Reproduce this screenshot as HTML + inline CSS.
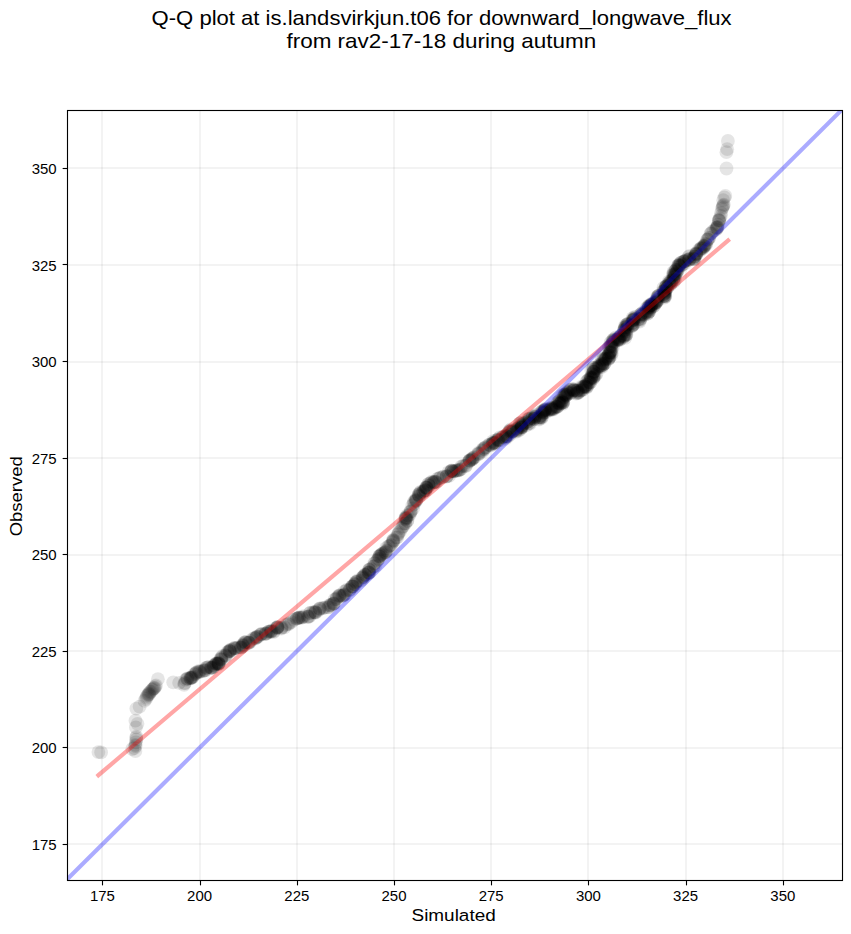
<!DOCTYPE html>
<html><head><meta charset="utf-8"><style>
html,body{margin:0;padding:0;background:#fff;}
body{width:851px;height:934px;overflow:hidden;}
svg{display:block;}
text{font-family:"Liberation Sans",sans-serif;fill:#000;}
</style></head><body>
<svg width="851" height="934" viewBox="0 0 851 934">
<defs><clipPath id="ax"><rect x="67.5" y="110.5" width="775.0" height="770.0"/></clipPath></defs>
<rect width="851" height="934" fill="#fff"/>
<g stroke="#000" stroke-opacity="0.046" stroke-width="2.08"><line x1="102" y1="110.5" x2="102" y2="880.5"/><line x1="67.5" y1="844" x2="842.5" y2="844"/><line x1="200" y1="110.5" x2="200" y2="880.5"/><line x1="67.5" y1="748" x2="842.5" y2="748"/><line x1="297" y1="110.5" x2="297" y2="880.5"/><line x1="67.5" y1="651" x2="842.5" y2="651"/><line x1="394" y1="110.5" x2="394" y2="880.5"/><line x1="67.5" y1="555" x2="842.5" y2="555"/><line x1="491" y1="110.5" x2="491" y2="880.5"/><line x1="67.5" y1="458" x2="842.5" y2="458"/><line x1="588" y1="110.5" x2="588" y2="880.5"/><line x1="67.5" y1="362" x2="842.5" y2="362"/><line x1="686" y1="110.5" x2="686" y2="880.5"/><line x1="67.5" y1="265" x2="842.5" y2="265"/><line x1="783" y1="110.5" x2="783" y2="880.5"/><line x1="67.5" y1="168" x2="842.5" y2="168"/></g>
<g clip-path="url(#ax)">
<g fill="#000" fill-opacity="0.1"><circle cx="98.4" cy="752.1" r="6.9"/><circle cx="101.1" cy="752.4" r="6.9"/><circle cx="132.3" cy="749.0" r="6.9"/><circle cx="135.4" cy="751.0" r="6.9"/><circle cx="134.4" cy="748.0" r="6.9"/><circle cx="135.4" cy="744.9" r="6.9"/><circle cx="135.9" cy="742.3" r="6.9"/><circle cx="136.4" cy="739.7" r="6.9"/><circle cx="136.4" cy="736.7" r="6.9"/><circle cx="135.6" cy="746.0" r="6.9"/><circle cx="136.2" cy="738.0" r="6.9"/><circle cx="135.9" cy="727.4" r="6.9"/><circle cx="135.4" cy="720.7" r="6.9"/><circle cx="137.5" cy="723.8" r="6.9"/><circle cx="136.3" cy="708.6" r="6.9"/><circle cx="139.6" cy="706.7" r="6.9"/><circle cx="144.5" cy="700.9" r="6.9"/><circle cx="145.9" cy="699.0" r="6.9"/><circle cx="147.8" cy="695.1" r="6.9"/><circle cx="149.3" cy="693.2" r="6.9"/><circle cx="152.7" cy="689.3" r="6.9"/><circle cx="154.6" cy="687.9" r="6.9"/><circle cx="156.0" cy="685.5" r="6.9"/><circle cx="157.9" cy="679.2" r="6.9"/><circle cx="146.5" cy="697.5" r="6.9"/><circle cx="151.0" cy="691.5" r="6.9"/><circle cx="153.5" cy="688.6" r="6.9"/><circle cx="148.5" cy="694.0" r="6.9"/><circle cx="155.2" cy="686.5" r="6.9"/><circle cx="150.0" cy="692.0" r="6.9"/><circle cx="152.0" cy="690.0" r="6.9"/><circle cx="147.0" cy="696.0" r="6.9"/><circle cx="154.0" cy="688.0" r="6.9"/><circle cx="149.0" cy="694.5" r="6.9"/><circle cx="173.2" cy="682.3" r="6.9"/><circle cx="179.1" cy="682.8" r="6.9"/><circle cx="726.5" cy="168.5" r="6.9"/><circle cx="726.4" cy="152.2" r="6.9"/><circle cx="727.2" cy="149.2" r="6.9"/><circle cx="727.9" cy="141.0" r="6.9"/><circle cx="184.1" cy="684.8" r="6.9"/><circle cx="184.5" cy="683.4" r="6.9"/><circle cx="184.9" cy="682.9" r="6.9"/><circle cx="187.1" cy="679.2" r="6.9"/><circle cx="185.7" cy="679.9" r="6.9"/><circle cx="187.8" cy="678.6" r="6.9"/><circle cx="187.1" cy="678.4" r="6.9"/><circle cx="190.9" cy="677.6" r="6.9"/><circle cx="190.3" cy="678.2" r="6.9"/><circle cx="193.0" cy="676.3" r="6.9"/><circle cx="192.4" cy="677.4" r="6.9"/><circle cx="191.5" cy="677.8" r="6.9"/><circle cx="190.0" cy="678.0" r="6.9"/><circle cx="190.9" cy="678.3" r="6.9"/><circle cx="191.6" cy="677.4" r="6.9"/><circle cx="196.3" cy="673.2" r="6.9"/><circle cx="194.1" cy="674.4" r="6.9"/><circle cx="195.4" cy="674.0" r="6.9"/><circle cx="195.8" cy="672.9" r="6.9"/><circle cx="196.7" cy="672.2" r="6.9"/><circle cx="198.9" cy="671.0" r="6.9"/><circle cx="200.0" cy="671.5" r="6.9"/><circle cx="199.7" cy="671.8" r="6.9"/><circle cx="198.5" cy="672.0" r="6.9"/><circle cx="205.4" cy="670.3" r="6.9"/><circle cx="203.7" cy="670.6" r="6.9"/><circle cx="202.0" cy="671.4" r="6.9"/><circle cx="204.6" cy="670.7" r="6.9"/><circle cx="205.0" cy="669.6" r="6.9"/><circle cx="207.4" cy="667.4" r="6.9"/><circle cx="205.8" cy="667.9" r="6.9"/><circle cx="208.7" cy="666.9" r="6.9"/><circle cx="206.5" cy="668.0" r="6.9"/><circle cx="212.7" cy="667.5" r="6.9"/><circle cx="213.8" cy="666.8" r="6.9"/><circle cx="211.4" cy="667.6" r="6.9"/><circle cx="212.0" cy="667.9" r="6.9"/><circle cx="214.0" cy="665.8" r="6.9"/><circle cx="210.9" cy="667.6" r="6.9"/><circle cx="211.2" cy="667.8" r="6.9"/><circle cx="215.4" cy="663.9" r="6.9"/><circle cx="216.3" cy="664.2" r="6.9"/><circle cx="216.5" cy="663.5" r="6.9"/><circle cx="216.3" cy="663.8" r="6.9"/><circle cx="214.2" cy="665.3" r="6.9"/><circle cx="217.1" cy="663.7" r="6.9"/><circle cx="218.8" cy="663.7" r="6.9"/><circle cx="218.2" cy="663.5" r="6.9"/><circle cx="218.6" cy="663.0" r="6.9"/><circle cx="218.8" cy="662.4" r="6.9"/><circle cx="218.1" cy="663.8" r="6.9"/><circle cx="218.6" cy="663.6" r="6.9"/><circle cx="218.9" cy="664.2" r="6.9"/><circle cx="221.1" cy="658.4" r="6.9"/><circle cx="221.1" cy="659.6" r="6.9"/><circle cx="222.7" cy="655.9" r="6.9"/><circle cx="221.2" cy="657.7" r="6.9"/><circle cx="220.5" cy="659.4" r="6.9"/><circle cx="221.4" cy="659.1" r="6.9"/><circle cx="225.5" cy="655.3" r="6.9"/><circle cx="225.5" cy="655.1" r="6.9"/><circle cx="226.0" cy="656.1" r="6.9"/><circle cx="227.8" cy="651.7" r="6.9"/><circle cx="229.6" cy="651.1" r="6.9"/><circle cx="229.5" cy="650.9" r="6.9"/><circle cx="227.7" cy="652.7" r="6.9"/><circle cx="230.6" cy="650.9" r="6.9"/><circle cx="229.9" cy="651.3" r="6.9"/><circle cx="229.3" cy="650.9" r="6.9"/><circle cx="230.3" cy="649.6" r="6.9"/><circle cx="231.5" cy="649.6" r="6.9"/><circle cx="234.3" cy="648.1" r="6.9"/><circle cx="234.5" cy="648.7" r="6.9"/><circle cx="234.3" cy="648.0" r="6.9"/><circle cx="235.6" cy="648.2" r="6.9"/><circle cx="238.7" cy="647.2" r="6.9"/><circle cx="236.8" cy="647.8" r="6.9"/><circle cx="243.3" cy="645.9" r="6.9"/><circle cx="242.4" cy="646.0" r="6.9"/><circle cx="240.5" cy="647.7" r="6.9"/><circle cx="241.1" cy="647.4" r="6.9"/><circle cx="243.2" cy="645.3" r="6.9"/><circle cx="241.4" cy="647.3" r="6.9"/><circle cx="243.5" cy="644.2" r="6.9"/><circle cx="245.5" cy="641.8" r="6.9"/><circle cx="246.1" cy="642.6" r="6.9"/><circle cx="245.1" cy="642.4" r="6.9"/><circle cx="244.5" cy="642.4" r="6.9"/><circle cx="243.0" cy="644.6" r="6.9"/><circle cx="249.6" cy="642.7" r="6.9"/><circle cx="250.6" cy="641.0" r="6.9"/><circle cx="248.5" cy="642.6" r="6.9"/><circle cx="248.6" cy="642.9" r="6.9"/><circle cx="248.6" cy="642.7" r="6.9"/><circle cx="252.7" cy="638.9" r="6.9"/><circle cx="254.5" cy="637.8" r="6.9"/><circle cx="257.0" cy="636.6" r="6.9"/><circle cx="256.8" cy="636.9" r="6.9"/><circle cx="255.3" cy="638.5" r="6.9"/><circle cx="255.8" cy="637.8" r="6.9"/><circle cx="258.1" cy="636.8" r="6.9"/><circle cx="256.5" cy="637.5" r="6.9"/><circle cx="261.1" cy="633.9" r="6.9"/><circle cx="260.1" cy="634.9" r="6.9"/><circle cx="261.0" cy="634.3" r="6.9"/><circle cx="262.2" cy="634.2" r="6.9"/><circle cx="265.7" cy="633.6" r="6.9"/><circle cx="265.4" cy="633.5" r="6.9"/><circle cx="265.7" cy="633.9" r="6.9"/><circle cx="266.6" cy="633.5" r="6.9"/><circle cx="271.9" cy="631.3" r="6.9"/><circle cx="268.2" cy="632.0" r="6.9"/><circle cx="269.4" cy="631.4" r="6.9"/><circle cx="268.6" cy="631.7" r="6.9"/><circle cx="270.7" cy="631.7" r="6.9"/><circle cx="271.4" cy="630.6" r="6.9"/><circle cx="270.9" cy="631.5" r="6.9"/><circle cx="273.5" cy="632.0" r="6.9"/><circle cx="274.1" cy="631.1" r="6.9"/><circle cx="277.7" cy="627.4" r="6.9"/><circle cx="277.2" cy="627.2" r="6.9"/><circle cx="277.3" cy="627.9" r="6.9"/><circle cx="276.0" cy="628.2" r="6.9"/><circle cx="277.5" cy="626.9" r="6.9"/><circle cx="277.3" cy="627.7" r="6.9"/><circle cx="284.5" cy="627.3" r="6.9"/><circle cx="281.3" cy="627.9" r="6.9"/><circle cx="281.3" cy="628.6" r="6.9"/><circle cx="281.9" cy="627.4" r="6.9"/><circle cx="285.8" cy="625.0" r="6.9"/><circle cx="288.8" cy="624.1" r="6.9"/><circle cx="287.6" cy="624.1" r="6.9"/><circle cx="289.1" cy="623.2" r="6.9"/><circle cx="291.4" cy="622.1" r="6.9"/><circle cx="296.2" cy="618.8" r="6.9"/><circle cx="294.0" cy="619.8" r="6.9"/><circle cx="299.0" cy="617.7" r="6.9"/><circle cx="297.2" cy="618.3" r="6.9"/><circle cx="297.0" cy="618.4" r="6.9"/><circle cx="298.1" cy="618.1" r="6.9"/><circle cx="300.0" cy="617.3" r="6.9"/><circle cx="298.9" cy="617.6" r="6.9"/><circle cx="301.4" cy="617.7" r="6.9"/><circle cx="303.5" cy="616.2" r="6.9"/><circle cx="303.5" cy="617.2" r="6.9"/><circle cx="301.9" cy="617.6" r="6.9"/><circle cx="307.8" cy="616.6" r="6.9"/><circle cx="309.3" cy="616.6" r="6.9"/><circle cx="307.7" cy="617.0" r="6.9"/><circle cx="309.2" cy="616.2" r="6.9"/><circle cx="310.0" cy="613.0" r="6.9"/><circle cx="312.7" cy="612.1" r="6.9"/><circle cx="310.2" cy="612.9" r="6.9"/><circle cx="313.4" cy="612.7" r="6.9"/><circle cx="315.3" cy="611.9" r="6.9"/><circle cx="314.7" cy="612.2" r="6.9"/><circle cx="315.5" cy="612.5" r="6.9"/><circle cx="318.1" cy="610.6" r="6.9"/><circle cx="315.4" cy="612.6" r="6.9"/><circle cx="319.5" cy="609.1" r="6.9"/><circle cx="319.8" cy="608.6" r="6.9"/><circle cx="319.7" cy="608.4" r="6.9"/><circle cx="322.4" cy="608.2" r="6.9"/><circle cx="323.6" cy="607.9" r="6.9"/><circle cx="324.9" cy="607.6" r="6.9"/><circle cx="330.3" cy="605.0" r="6.9"/><circle cx="328.7" cy="607.1" r="6.9"/><circle cx="327.9" cy="607.3" r="6.9"/><circle cx="329.2" cy="605.3" r="6.9"/><circle cx="330.5" cy="605.6" r="6.9"/><circle cx="331.5" cy="604.6" r="6.9"/><circle cx="333.1" cy="603.9" r="6.9"/><circle cx="334.2" cy="603.1" r="6.9"/><circle cx="333.4" cy="603.8" r="6.9"/><circle cx="333.7" cy="603.3" r="6.9"/><circle cx="334.7" cy="599.4" r="6.9"/><circle cx="336.8" cy="598.6" r="6.9"/><circle cx="336.0" cy="599.2" r="6.9"/><circle cx="340.1" cy="595.7" r="6.9"/><circle cx="338.9" cy="596.4" r="6.9"/><circle cx="339.1" cy="595.5" r="6.9"/><circle cx="339.5" cy="595.5" r="6.9"/><circle cx="337.2" cy="597.4" r="6.9"/><circle cx="345.4" cy="593.6" r="6.9"/><circle cx="343.2" cy="595.3" r="6.9"/><circle cx="344.5" cy="594.7" r="6.9"/><circle cx="344.2" cy="594.8" r="6.9"/><circle cx="341.9" cy="595.9" r="6.9"/><circle cx="342.9" cy="595.9" r="6.9"/><circle cx="344.3" cy="591.7" r="6.9"/><circle cx="346.8" cy="590.3" r="6.9"/><circle cx="346.5" cy="589.9" r="6.9"/><circle cx="349.3" cy="590.1" r="6.9"/><circle cx="349.6" cy="590.0" r="6.9"/><circle cx="351.5" cy="586.9" r="6.9"/><circle cx="350.4" cy="589.0" r="6.9"/><circle cx="352.9" cy="586.6" r="6.9"/><circle cx="352.6" cy="586.2" r="6.9"/><circle cx="352.3" cy="586.4" r="6.9"/><circle cx="354.9" cy="583.6" r="6.9"/><circle cx="354.7" cy="584.4" r="6.9"/><circle cx="355.1" cy="584.4" r="6.9"/><circle cx="352.9" cy="586.5" r="6.9"/><circle cx="356.6" cy="581.8" r="6.9"/><circle cx="355.7" cy="582.1" r="6.9"/><circle cx="356.0" cy="582.1" r="6.9"/><circle cx="357.5" cy="580.4" r="6.9"/><circle cx="357.8" cy="581.4" r="6.9"/><circle cx="362.6" cy="578.9" r="6.9"/><circle cx="360.8" cy="580.6" r="6.9"/><circle cx="363.5" cy="576.4" r="6.9"/><circle cx="362.2" cy="577.6" r="6.9"/><circle cx="364.7" cy="575.0" r="6.9"/><circle cx="365.0" cy="574.6" r="6.9"/><circle cx="363.2" cy="577.2" r="6.9"/><circle cx="362.9" cy="577.3" r="6.9"/><circle cx="365.6" cy="575.1" r="6.9"/><circle cx="369.4" cy="572.3" r="6.9"/><circle cx="368.3" cy="572.7" r="6.9"/><circle cx="368.7" cy="572.9" r="6.9"/><circle cx="368.9" cy="573.0" r="6.9"/><circle cx="367.0" cy="574.2" r="6.9"/><circle cx="368.9" cy="572.0" r="6.9"/><circle cx="370.9" cy="568.8" r="6.9"/><circle cx="369.2" cy="570.2" r="6.9"/><circle cx="369.2" cy="570.0" r="6.9"/><circle cx="369.2" cy="569.4" r="6.9"/><circle cx="373.7" cy="566.5" r="6.9"/><circle cx="375.5" cy="565.5" r="6.9"/><circle cx="373.5" cy="566.6" r="6.9"/><circle cx="374.2" cy="563.4" r="6.9"/><circle cx="374.9" cy="563.1" r="6.9"/><circle cx="376.9" cy="560.9" r="6.9"/><circle cx="378.2" cy="559.1" r="6.9"/><circle cx="377.3" cy="560.2" r="6.9"/><circle cx="379.6" cy="556.7" r="6.9"/><circle cx="378.8" cy="558.8" r="6.9"/><circle cx="380.1" cy="555.5" r="6.9"/><circle cx="381.2" cy="555.2" r="6.9"/><circle cx="382.3" cy="553.7" r="6.9"/><circle cx="379.2" cy="556.1" r="6.9"/><circle cx="381.9" cy="554.2" r="6.9"/><circle cx="380.9" cy="554.8" r="6.9"/><circle cx="379.4" cy="556.4" r="6.9"/><circle cx="386.4" cy="550.4" r="6.9"/><circle cx="383.6" cy="553.2" r="6.9"/><circle cx="385.4" cy="552.3" r="6.9"/><circle cx="386.7" cy="550.9" r="6.9"/><circle cx="385.8" cy="551.9" r="6.9"/><circle cx="385.0" cy="552.4" r="6.9"/><circle cx="388.4" cy="546.4" r="6.9"/><circle cx="386.1" cy="548.1" r="6.9"/><circle cx="389.4" cy="546.1" r="6.9"/><circle cx="391.1" cy="545.1" r="6.9"/><circle cx="390.4" cy="545.2" r="6.9"/><circle cx="393.3" cy="541.3" r="6.9"/><circle cx="393.7" cy="540.5" r="6.9"/><circle cx="392.7" cy="540.7" r="6.9"/><circle cx="392.8" cy="542.1" r="6.9"/><circle cx="393.3" cy="539.9" r="6.9"/><circle cx="396.0" cy="537.7" r="6.9"/><circle cx="397.3" cy="537.3" r="6.9"/><circle cx="398.3" cy="533.8" r="6.9"/><circle cx="397.9" cy="534.7" r="6.9"/><circle cx="399.0" cy="532.4" r="6.9"/><circle cx="401.6" cy="528.2" r="6.9"/><circle cx="400.5" cy="530.8" r="6.9"/><circle cx="402.4" cy="526.8" r="6.9"/><circle cx="403.3" cy="526.1" r="6.9"/><circle cx="403.7" cy="523.6" r="6.9"/><circle cx="405.1" cy="523.2" r="6.9"/><circle cx="405.3" cy="523.7" r="6.9"/><circle cx="407.4" cy="520.5" r="6.9"/><circle cx="407.2" cy="521.2" r="6.9"/><circle cx="407.3" cy="515.2" r="6.9"/><circle cx="405.6" cy="519.0" r="6.9"/><circle cx="405.9" cy="517.4" r="6.9"/><circle cx="405.6" cy="517.5" r="6.9"/><circle cx="405.1" cy="518.9" r="6.9"/><circle cx="406.5" cy="517.8" r="6.9"/><circle cx="406.1" cy="518.7" r="6.9"/><circle cx="410.4" cy="512.2" r="6.9"/><circle cx="408.7" cy="515.3" r="6.9"/><circle cx="409.9" cy="514.3" r="6.9"/><circle cx="411.0" cy="511.4" r="6.9"/><circle cx="413.1" cy="508.5" r="6.9"/><circle cx="410.6" cy="511.2" r="6.9"/><circle cx="414.0" cy="504.0" r="6.9"/><circle cx="412.4" cy="505.3" r="6.9"/><circle cx="415.7" cy="499.9" r="6.9"/><circle cx="414.3" cy="501.4" r="6.9"/><circle cx="416.4" cy="500.1" r="6.9"/><circle cx="416.1" cy="500.6" r="6.9"/><circle cx="414.0" cy="502.5" r="6.9"/><circle cx="415.8" cy="501.2" r="6.9"/><circle cx="416.3" cy="499.0" r="6.9"/><circle cx="418.9" cy="495.3" r="6.9"/><circle cx="419.2" cy="496.1" r="6.9"/><circle cx="419.3" cy="496.1" r="6.9"/><circle cx="420.1" cy="493.7" r="6.9"/><circle cx="418.9" cy="494.5" r="6.9"/><circle cx="420.5" cy="491.8" r="6.9"/><circle cx="418.7" cy="494.4" r="6.9"/><circle cx="420.1" cy="492.7" r="6.9"/><circle cx="423.4" cy="491.2" r="6.9"/><circle cx="423.1" cy="492.1" r="6.9"/><circle cx="425.2" cy="490.2" r="6.9"/><circle cx="423.5" cy="491.6" r="6.9"/><circle cx="425.1" cy="490.7" r="6.9"/><circle cx="425.7" cy="490.4" r="6.9"/><circle cx="424.8" cy="490.0" r="6.9"/><circle cx="427.0" cy="487.6" r="6.9"/><circle cx="426.0" cy="487.7" r="6.9"/><circle cx="426.1" cy="487.5" r="6.9"/><circle cx="428.7" cy="485.9" r="6.9"/><circle cx="426.6" cy="487.5" r="6.9"/><circle cx="429.0" cy="485.6" r="6.9"/><circle cx="426.6" cy="488.1" r="6.9"/><circle cx="430.1" cy="483.5" r="6.9"/><circle cx="431.5" cy="482.4" r="6.9"/><circle cx="428.2" cy="484.3" r="6.9"/><circle cx="428.4" cy="484.0" r="6.9"/><circle cx="431.7" cy="481.7" r="6.9"/><circle cx="434.4" cy="482.0" r="6.9"/><circle cx="436.2" cy="482.0" r="6.9"/><circle cx="433.2" cy="483.0" r="6.9"/><circle cx="435.1" cy="481.6" r="6.9"/><circle cx="434.0" cy="482.0" r="6.9"/><circle cx="433.4" cy="482.4" r="6.9"/><circle cx="435.3" cy="482.1" r="6.9"/><circle cx="438.9" cy="478.2" r="6.9"/><circle cx="437.4" cy="478.9" r="6.9"/><circle cx="439.6" cy="478.3" r="6.9"/><circle cx="442.8" cy="477.1" r="6.9"/><circle cx="440.7" cy="477.5" r="6.9"/><circle cx="443.3" cy="476.6" r="6.9"/><circle cx="446.6" cy="476.7" r="6.9"/><circle cx="446.7" cy="476.4" r="6.9"/><circle cx="449.1" cy="475.9" r="6.9"/><circle cx="446.6" cy="476.2" r="6.9"/><circle cx="451.8" cy="470.9" r="6.9"/><circle cx="451.4" cy="471.0" r="6.9"/><circle cx="451.7" cy="471.0" r="6.9"/><circle cx="448.5" cy="472.1" r="6.9"/><circle cx="450.5" cy="471.9" r="6.9"/><circle cx="451.6" cy="470.5" r="6.9"/><circle cx="453.3" cy="471.3" r="6.9"/><circle cx="455.2" cy="471.2" r="6.9"/><circle cx="453.3" cy="471.6" r="6.9"/><circle cx="456.3" cy="470.6" r="6.9"/><circle cx="453.4" cy="471.1" r="6.9"/><circle cx="456.9" cy="470.3" r="6.9"/><circle cx="459.2" cy="470.2" r="6.9"/><circle cx="460.1" cy="469.6" r="6.9"/><circle cx="458.2" cy="470.6" r="6.9"/><circle cx="458.2" cy="470.0" r="6.9"/><circle cx="461.0" cy="469.1" r="6.9"/><circle cx="462.8" cy="465.9" r="6.9"/><circle cx="461.1" cy="466.7" r="6.9"/><circle cx="463.9" cy="466.0" r="6.9"/><circle cx="465.8" cy="466.0" r="6.9"/><circle cx="465.9" cy="465.5" r="6.9"/><circle cx="469.7" cy="460.8" r="6.9"/><circle cx="469.7" cy="460.8" r="6.9"/><circle cx="469.6" cy="460.5" r="6.9"/><circle cx="468.3" cy="462.0" r="6.9"/><circle cx="469.6" cy="460.2" r="6.9"/><circle cx="471.0" cy="459.9" r="6.9"/><circle cx="472.0" cy="458.6" r="6.9"/><circle cx="473.1" cy="457.6" r="6.9"/><circle cx="473.5" cy="458.0" r="6.9"/><circle cx="472.2" cy="459.3" r="6.9"/><circle cx="472.4" cy="459.2" r="6.9"/><circle cx="474.6" cy="457.0" r="6.9"/><circle cx="478.3" cy="452.9" r="6.9"/><circle cx="478.6" cy="454.0" r="6.9"/><circle cx="478.1" cy="454.2" r="6.9"/><circle cx="482.8" cy="451.2" r="6.9"/><circle cx="479.7" cy="453.2" r="6.9"/><circle cx="482.1" cy="450.4" r="6.9"/><circle cx="485.4" cy="447.4" r="6.9"/><circle cx="485.1" cy="447.5" r="6.9"/><circle cx="484.4" cy="449.1" r="6.9"/><circle cx="482.8" cy="449.2" r="6.9"/><circle cx="484.0" cy="448.5" r="6.9"/><circle cx="489.7" cy="445.1" r="6.9"/><circle cx="489.2" cy="444.7" r="6.9"/><circle cx="488.7" cy="444.9" r="6.9"/><circle cx="493.4" cy="443.0" r="6.9"/><circle cx="492.5" cy="444.0" r="6.9"/><circle cx="490.8" cy="445.4" r="6.9"/><circle cx="492.4" cy="443.4" r="6.9"/><circle cx="492.9" cy="442.9" r="6.9"/><circle cx="493.9" cy="442.7" r="6.9"/><circle cx="495.0" cy="442.9" r="6.9"/><circle cx="494.6" cy="443.5" r="6.9"/><circle cx="495.2" cy="442.4" r="6.9"/><circle cx="498.0" cy="440.7" r="6.9"/><circle cx="496.3" cy="440.5" r="6.9"/><circle cx="493.1" cy="441.1" r="6.9"/><circle cx="500.7" cy="440.4" r="6.9"/><circle cx="498.0" cy="439.2" r="6.9"/><circle cx="499.7" cy="437.4" r="6.9"/><circle cx="497.7" cy="439.8" r="6.9"/><circle cx="498.1" cy="439.6" r="6.9"/><circle cx="499.0" cy="440.1" r="6.9"/><circle cx="503.7" cy="436.7" r="6.9"/><circle cx="505.7" cy="436.0" r="6.9"/><circle cx="502.3" cy="437.3" r="6.9"/><circle cx="505.6" cy="438.7" r="6.9"/><circle cx="505.4" cy="436.9" r="6.9"/><circle cx="502.6" cy="436.8" r="6.9"/><circle cx="505.1" cy="437.7" r="6.9"/><circle cx="510.2" cy="434.6" r="6.9"/><circle cx="507.7" cy="436.7" r="6.9"/><circle cx="506.2" cy="435.9" r="6.9"/><circle cx="507.2" cy="434.2" r="6.9"/><circle cx="506.7" cy="436.7" r="6.9"/><circle cx="506.1" cy="436.1" r="6.9"/><circle cx="511.5" cy="431.1" r="6.9"/><circle cx="512.3" cy="431.9" r="6.9"/><circle cx="509.5" cy="431.8" r="6.9"/><circle cx="509.4" cy="430.7" r="6.9"/><circle cx="513.2" cy="431.2" r="6.9"/><circle cx="510.8" cy="429.4" r="6.9"/><circle cx="512.9" cy="431.2" r="6.9"/><circle cx="511.5" cy="432.2" r="6.9"/><circle cx="510.4" cy="430.8" r="6.9"/><circle cx="509.1" cy="431.7" r="6.9"/><circle cx="517.9" cy="431.2" r="6.9"/><circle cx="516.7" cy="429.5" r="6.9"/><circle cx="516.4" cy="430.4" r="6.9"/><circle cx="517.5" cy="430.0" r="6.9"/><circle cx="515.8" cy="431.8" r="6.9"/><circle cx="517.5" cy="428.6" r="6.9"/><circle cx="516.7" cy="428.3" r="6.9"/><circle cx="522.2" cy="427.4" r="6.9"/><circle cx="520.2" cy="429.5" r="6.9"/><circle cx="518.8" cy="427.7" r="6.9"/><circle cx="521.8" cy="427.2" r="6.9"/><circle cx="521.1" cy="427.9" r="6.9"/><circle cx="521.7" cy="426.5" r="6.9"/><circle cx="521.7" cy="427.6" r="6.9"/><circle cx="521.2" cy="426.8" r="6.9"/><circle cx="521.7" cy="424.7" r="6.9"/><circle cx="521.8" cy="425.9" r="6.9"/><circle cx="520.1" cy="423.1" r="6.9"/><circle cx="521.9" cy="425.8" r="6.9"/><circle cx="521.1" cy="422.9" r="6.9"/><circle cx="519.7" cy="423.5" r="6.9"/><circle cx="523.4" cy="423.4" r="6.9"/><circle cx="523.7" cy="423.6" r="6.9"/><circle cx="521.1" cy="425.0" r="6.9"/><circle cx="528.6" cy="421.2" r="6.9"/><circle cx="529.9" cy="423.9" r="6.9"/><circle cx="528.9" cy="421.2" r="6.9"/><circle cx="525.9" cy="422.7" r="6.9"/><circle cx="526.3" cy="425.4" r="6.9"/><circle cx="529.2" cy="423.2" r="6.9"/><circle cx="529.2" cy="423.1" r="6.9"/><circle cx="526.2" cy="422.5" r="6.9"/><circle cx="529.6" cy="418.8" r="6.9"/><circle cx="528.1" cy="418.9" r="6.9"/><circle cx="529.9" cy="419.8" r="6.9"/><circle cx="529.6" cy="418.4" r="6.9"/><circle cx="532.4" cy="417.7" r="6.9"/><circle cx="532.1" cy="418.3" r="6.9"/><circle cx="528.4" cy="419.4" r="6.9"/><circle cx="535.8" cy="416.9" r="6.9"/><circle cx="534.3" cy="419.0" r="6.9"/><circle cx="533.7" cy="419.1" r="6.9"/><circle cx="532.7" cy="416.3" r="6.9"/><circle cx="534.1" cy="418.7" r="6.9"/><circle cx="536.1" cy="414.6" r="6.9"/><circle cx="534.8" cy="417.2" r="6.9"/><circle cx="535.6" cy="415.6" r="6.9"/><circle cx="534.6" cy="416.7" r="6.9"/><circle cx="538.9" cy="417.2" r="6.9"/><circle cx="541.1" cy="417.3" r="6.9"/><circle cx="538.9" cy="418.9" r="6.9"/><circle cx="539.0" cy="419.5" r="6.9"/><circle cx="541.6" cy="418.2" r="6.9"/><circle cx="540.6" cy="417.0" r="6.9"/><circle cx="539.7" cy="417.6" r="6.9"/><circle cx="541.2" cy="415.6" r="6.9"/><circle cx="541.1" cy="415.4" r="6.9"/><circle cx="538.7" cy="417.5" r="6.9"/><circle cx="541.9" cy="416.9" r="6.9"/><circle cx="542.6" cy="412.8" r="6.9"/><circle cx="544.1" cy="412.7" r="6.9"/><circle cx="542.9" cy="411.8" r="6.9"/><circle cx="541.3" cy="412.1" r="6.9"/><circle cx="544.3" cy="412.2" r="6.9"/><circle cx="542.9" cy="411.0" r="6.9"/><circle cx="543.0" cy="413.6" r="6.9"/><circle cx="542.2" cy="411.3" r="6.9"/><circle cx="544.8" cy="410.2" r="6.9"/><circle cx="547.9" cy="410.4" r="6.9"/><circle cx="544.4" cy="409.9" r="6.9"/><circle cx="545.1" cy="410.1" r="6.9"/><circle cx="545.8" cy="408.9" r="6.9"/><circle cx="545.1" cy="409.5" r="6.9"/><circle cx="548.6" cy="409.3" r="6.9"/><circle cx="545.9" cy="412.4" r="6.9"/><circle cx="544.7" cy="410.7" r="6.9"/><circle cx="550.6" cy="408.5" r="6.9"/><circle cx="551.2" cy="407.7" r="6.9"/><circle cx="550.2" cy="409.6" r="6.9"/><circle cx="549.6" cy="410.1" r="6.9"/><circle cx="553.0" cy="409.0" r="6.9"/><circle cx="551.8" cy="409.6" r="6.9"/><circle cx="550.6" cy="408.2" r="6.9"/><circle cx="551.7" cy="408.6" r="6.9"/><circle cx="553.3" cy="409.7" r="6.9"/><circle cx="551.4" cy="409.6" r="6.9"/><circle cx="552.3" cy="408.3" r="6.9"/><circle cx="557.1" cy="406.9" r="6.9"/><circle cx="557.3" cy="406.6" r="6.9"/><circle cx="556.1" cy="406.6" r="6.9"/><circle cx="555.2" cy="407.9" r="6.9"/><circle cx="554.0" cy="407.9" r="6.9"/><circle cx="557.2" cy="406.9" r="6.9"/><circle cx="555.6" cy="406.0" r="6.9"/><circle cx="555.3" cy="407.1" r="6.9"/><circle cx="559.5" cy="401.2" r="6.9"/><circle cx="559.9" cy="403.6" r="6.9"/><circle cx="558.3" cy="403.6" r="6.9"/><circle cx="559.3" cy="400.6" r="6.9"/><circle cx="558.1" cy="402.3" r="6.9"/><circle cx="560.7" cy="403.7" r="6.9"/><circle cx="557.8" cy="402.2" r="6.9"/><circle cx="559.1" cy="403.2" r="6.9"/><circle cx="559.5" cy="402.7" r="6.9"/><circle cx="560.0" cy="403.8" r="6.9"/><circle cx="562.5" cy="402.7" r="6.9"/><circle cx="563.3" cy="402.3" r="6.9"/><circle cx="562.9" cy="403.8" r="6.9"/><circle cx="561.5" cy="400.5" r="6.9"/><circle cx="562.0" cy="401.7" r="6.9"/><circle cx="561.2" cy="402.6" r="6.9"/><circle cx="563.2" cy="402.1" r="6.9"/><circle cx="562.0" cy="401.1" r="6.9"/><circle cx="562.7" cy="402.8" r="6.9"/><circle cx="565.0" cy="394.4" r="6.9"/><circle cx="562.3" cy="395.5" r="6.9"/><circle cx="565.9" cy="395.7" r="6.9"/><circle cx="564.6" cy="395.2" r="6.9"/><circle cx="563.8" cy="394.7" r="6.9"/><circle cx="565.5" cy="393.8" r="6.9"/><circle cx="565.5" cy="396.1" r="6.9"/><circle cx="565.2" cy="394.6" r="6.9"/><circle cx="563.6" cy="396.4" r="6.9"/><circle cx="563.7" cy="397.7" r="6.9"/><circle cx="564.5" cy="397.0" r="6.9"/><circle cx="567.5" cy="392.0" r="6.9"/><circle cx="566.5" cy="394.6" r="6.9"/><circle cx="567.0" cy="392.5" r="6.9"/><circle cx="567.4" cy="393.2" r="6.9"/><circle cx="568.2" cy="393.5" r="6.9"/><circle cx="568.7" cy="392.1" r="6.9"/><circle cx="570.6" cy="393.2" r="6.9"/><circle cx="566.9" cy="394.8" r="6.9"/><circle cx="573.8" cy="390.3" r="6.9"/><circle cx="569.5" cy="389.8" r="6.9"/><circle cx="574.4" cy="390.1" r="6.9"/><circle cx="570.6" cy="389.6" r="6.9"/><circle cx="570.4" cy="390.3" r="6.9"/><circle cx="573.2" cy="389.4" r="6.9"/><circle cx="571.4" cy="392.5" r="6.9"/><circle cx="573.0" cy="388.8" r="6.9"/><circle cx="574.0" cy="390.1" r="6.9"/><circle cx="573.7" cy="390.5" r="6.9"/><circle cx="576.8" cy="392.8" r="6.9"/><circle cx="578.3" cy="392.3" r="6.9"/><circle cx="578.1" cy="393.0" r="6.9"/><circle cx="577.7" cy="390.7" r="6.9"/><circle cx="576.2" cy="390.9" r="6.9"/><circle cx="577.1" cy="390.2" r="6.9"/><circle cx="577.2" cy="390.5" r="6.9"/><circle cx="577.8" cy="391.6" r="6.9"/><circle cx="578.5" cy="392.7" r="6.9"/><circle cx="576.3" cy="393.7" r="6.9"/><circle cx="582.6" cy="387.2" r="6.9"/><circle cx="582.6" cy="390.1" r="6.9"/><circle cx="580.7" cy="390.3" r="6.9"/><circle cx="581.0" cy="386.9" r="6.9"/><circle cx="582.6" cy="388.7" r="6.9"/><circle cx="582.8" cy="386.8" r="6.9"/><circle cx="583.4" cy="387.1" r="6.9"/><circle cx="582.7" cy="389.7" r="6.9"/><circle cx="580.7" cy="390.6" r="6.9"/><circle cx="585.2" cy="386.5" r="6.9"/><circle cx="586.5" cy="386.8" r="6.9"/><circle cx="584.6" cy="386.9" r="6.9"/><circle cx="585.6" cy="386.6" r="6.9"/><circle cx="586.4" cy="384.6" r="6.9"/><circle cx="586.6" cy="384.9" r="6.9"/><circle cx="585.2" cy="385.6" r="6.9"/><circle cx="586.9" cy="387.4" r="6.9"/><circle cx="587.0" cy="386.5" r="6.9"/><circle cx="584.7" cy="386.2" r="6.9"/><circle cx="588.2" cy="380.1" r="6.9"/><circle cx="590.1" cy="382.6" r="6.9"/><circle cx="587.4" cy="380.9" r="6.9"/><circle cx="586.5" cy="381.6" r="6.9"/><circle cx="588.4" cy="384.3" r="6.9"/><circle cx="589.1" cy="382.3" r="6.9"/><circle cx="590.4" cy="382.4" r="6.9"/><circle cx="589.0" cy="382.2" r="6.9"/><circle cx="591.0" cy="377.4" r="6.9"/><circle cx="591.7" cy="377.9" r="6.9"/><circle cx="590.8" cy="376.9" r="6.9"/><circle cx="589.3" cy="379.1" r="6.9"/><circle cx="593.4" cy="378.3" r="6.9"/><circle cx="591.4" cy="377.8" r="6.9"/><circle cx="593.1" cy="377.9" r="6.9"/><circle cx="590.9" cy="378.0" r="6.9"/><circle cx="590.8" cy="379.3" r="6.9"/><circle cx="593.6" cy="372.3" r="6.9"/><circle cx="592.7" cy="373.7" r="6.9"/><circle cx="594.1" cy="376.9" r="6.9"/><circle cx="595.4" cy="375.3" r="6.9"/><circle cx="592.3" cy="374.1" r="6.9"/><circle cx="594.0" cy="375.4" r="6.9"/><circle cx="596.5" cy="373.9" r="6.9"/><circle cx="593.6" cy="374.7" r="6.9"/><circle cx="593.5" cy="376.6" r="6.9"/><circle cx="593.1" cy="371.6" r="6.9"/><circle cx="594.2" cy="371.7" r="6.9"/><circle cx="593.9" cy="371.6" r="6.9"/><circle cx="591.3" cy="369.9" r="6.9"/><circle cx="593.3" cy="368.0" r="6.9"/><circle cx="593.2" cy="367.8" r="6.9"/><circle cx="593.5" cy="371.6" r="6.9"/><circle cx="595.2" cy="369.1" r="6.9"/><circle cx="599.2" cy="366.3" r="6.9"/><circle cx="599.3" cy="365.0" r="6.9"/><circle cx="600.7" cy="366.0" r="6.9"/><circle cx="595.9" cy="367.6" r="6.9"/><circle cx="600.0" cy="367.3" r="6.9"/><circle cx="596.9" cy="368.1" r="6.9"/><circle cx="598.5" cy="365.5" r="6.9"/><circle cx="599.7" cy="365.8" r="6.9"/><circle cx="597.0" cy="368.3" r="6.9"/><circle cx="598.7" cy="366.7" r="6.9"/><circle cx="602.3" cy="365.0" r="6.9"/><circle cx="602.5" cy="363.5" r="6.9"/><circle cx="602.7" cy="365.2" r="6.9"/><circle cx="604.4" cy="363.3" r="6.9"/><circle cx="602.0" cy="363.4" r="6.9"/><circle cx="602.3" cy="366.8" r="6.9"/><circle cx="603.8" cy="364.2" r="6.9"/><circle cx="602.1" cy="365.0" r="6.9"/><circle cx="604.7" cy="363.3" r="6.9"/><circle cx="602.1" cy="363.4" r="6.9"/><circle cx="604.7" cy="359.0" r="6.9"/><circle cx="605.9" cy="358.7" r="6.9"/><circle cx="601.8" cy="358.9" r="6.9"/><circle cx="602.9" cy="360.0" r="6.9"/><circle cx="605.0" cy="359.8" r="6.9"/><circle cx="603.8" cy="356.9" r="6.9"/><circle cx="605.7" cy="359.0" r="6.9"/><circle cx="605.2" cy="358.3" r="6.9"/><circle cx="604.1" cy="361.0" r="6.9"/><circle cx="606.9" cy="356.8" r="6.9"/><circle cx="609.6" cy="357.3" r="6.9"/><circle cx="608.7" cy="358.6" r="6.9"/><circle cx="608.7" cy="354.8" r="6.9"/><circle cx="609.4" cy="356.8" r="6.9"/><circle cx="607.6" cy="356.6" r="6.9"/><circle cx="608.8" cy="358.4" r="6.9"/><circle cx="609.1" cy="355.7" r="6.9"/><circle cx="608.6" cy="359.2" r="6.9"/><circle cx="608.4" cy="355.4" r="6.9"/><circle cx="610.7" cy="352.8" r="6.9"/><circle cx="610.0" cy="352.0" r="6.9"/><circle cx="609.0" cy="353.6" r="6.9"/><circle cx="610.8" cy="351.8" r="6.9"/><circle cx="610.6" cy="352.5" r="6.9"/><circle cx="609.7" cy="352.2" r="6.9"/><circle cx="611.3" cy="355.6" r="6.9"/><circle cx="609.2" cy="352.7" r="6.9"/><circle cx="611.9" cy="352.9" r="6.9"/><circle cx="609.3" cy="346.7" r="6.9"/><circle cx="611.2" cy="350.4" r="6.9"/><circle cx="611.6" cy="346.1" r="6.9"/><circle cx="610.2" cy="346.9" r="6.9"/><circle cx="611.2" cy="346.4" r="6.9"/><circle cx="612.6" cy="346.3" r="6.9"/><circle cx="613.0" cy="347.2" r="6.9"/><circle cx="608.8" cy="347.8" r="6.9"/><circle cx="611.1" cy="344.9" r="6.9"/><circle cx="612.7" cy="341.4" r="6.9"/><circle cx="614.3" cy="342.0" r="6.9"/><circle cx="611.3" cy="344.9" r="6.9"/><circle cx="610.6" cy="342.7" r="6.9"/><circle cx="612.3" cy="340.7" r="6.9"/><circle cx="612.6" cy="343.0" r="6.9"/><circle cx="613.6" cy="341.5" r="6.9"/><circle cx="618.6" cy="339.4" r="6.9"/><circle cx="613.7" cy="339.2" r="6.9"/><circle cx="614.6" cy="339.9" r="6.9"/><circle cx="618.1" cy="339.3" r="6.9"/><circle cx="615.8" cy="337.3" r="6.9"/><circle cx="617.3" cy="339.2" r="6.9"/><circle cx="617.5" cy="340.3" r="6.9"/><circle cx="613.4" cy="340.0" r="6.9"/><circle cx="617.7" cy="339.9" r="6.9"/><circle cx="620.4" cy="336.0" r="6.9"/><circle cx="619.4" cy="337.8" r="6.9"/><circle cx="619.3" cy="339.0" r="6.9"/><circle cx="618.8" cy="338.2" r="6.9"/><circle cx="619.8" cy="339.5" r="6.9"/><circle cx="619.5" cy="340.0" r="6.9"/><circle cx="618.4" cy="337.6" r="6.9"/><circle cx="621.3" cy="335.8" r="6.9"/><circle cx="622.9" cy="337.5" r="6.9"/><circle cx="621.0" cy="335.7" r="6.9"/><circle cx="626.5" cy="334.7" r="6.9"/><circle cx="624.6" cy="335.5" r="6.9"/><circle cx="626.1" cy="334.4" r="6.9"/><circle cx="624.6" cy="334.4" r="6.9"/><circle cx="623.2" cy="335.7" r="6.9"/><circle cx="626.0" cy="335.0" r="6.9"/><circle cx="625.3" cy="337.8" r="6.9"/><circle cx="624.3" cy="336.3" r="6.9"/><circle cx="623.6" cy="336.4" r="6.9"/><circle cx="624.6" cy="329.4" r="6.9"/><circle cx="625.2" cy="327.5" r="6.9"/><circle cx="625.3" cy="327.1" r="6.9"/><circle cx="626.8" cy="328.7" r="6.9"/><circle cx="624.3" cy="330.8" r="6.9"/><circle cx="623.9" cy="330.0" r="6.9"/><circle cx="623.9" cy="330.6" r="6.9"/><circle cx="628.0" cy="329.1" r="6.9"/><circle cx="625.2" cy="327.4" r="6.9"/><circle cx="625.7" cy="331.4" r="6.9"/><circle cx="624.6" cy="331.9" r="6.9"/><circle cx="627.9" cy="324.2" r="6.9"/><circle cx="625.0" cy="325.9" r="6.9"/><circle cx="628.4" cy="324.6" r="6.9"/><circle cx="626.4" cy="326.7" r="6.9"/><circle cx="627.8" cy="323.6" r="6.9"/><circle cx="626.6" cy="324.7" r="6.9"/><circle cx="627.3" cy="327.5" r="6.9"/><circle cx="627.2" cy="324.3" r="6.9"/><circle cx="631.9" cy="323.4" r="6.9"/><circle cx="632.0" cy="325.2" r="6.9"/><circle cx="634.0" cy="323.8" r="6.9"/><circle cx="631.9" cy="322.9" r="6.9"/><circle cx="631.9" cy="325.9" r="6.9"/><circle cx="632.9" cy="324.7" r="6.9"/><circle cx="632.1" cy="326.1" r="6.9"/><circle cx="633.0" cy="325.2" r="6.9"/><circle cx="635.2" cy="317.3" r="6.9"/><circle cx="634.6" cy="316.8" r="6.9"/><circle cx="633.5" cy="320.4" r="6.9"/><circle cx="632.6" cy="318.1" r="6.9"/><circle cx="633.6" cy="319.2" r="6.9"/><circle cx="632.2" cy="320.1" r="6.9"/><circle cx="633.7" cy="318.8" r="6.9"/><circle cx="633.0" cy="320.3" r="6.9"/><circle cx="635.8" cy="318.6" r="6.9"/><circle cx="633.7" cy="319.7" r="6.9"/><circle cx="634.0" cy="319.6" r="6.9"/><circle cx="640.3" cy="319.0" r="6.9"/><circle cx="640.5" cy="318.9" r="6.9"/><circle cx="639.7" cy="321.6" r="6.9"/><circle cx="638.6" cy="318.9" r="6.9"/><circle cx="638.3" cy="319.4" r="6.9"/><circle cx="640.2" cy="316.7" r="6.9"/><circle cx="639.3" cy="320.7" r="6.9"/><circle cx="642.9" cy="314.4" r="6.9"/><circle cx="642.3" cy="312.9" r="6.9"/><circle cx="644.4" cy="314.0" r="6.9"/><circle cx="640.1" cy="314.9" r="6.9"/><circle cx="642.6" cy="314.6" r="6.9"/><circle cx="640.9" cy="314.2" r="6.9"/><circle cx="641.4" cy="313.9" r="6.9"/><circle cx="643.8" cy="315.3" r="6.9"/><circle cx="641.5" cy="315.9" r="6.9"/><circle cx="648.0" cy="310.7" r="6.9"/><circle cx="647.3" cy="313.5" r="6.9"/><circle cx="646.6" cy="312.0" r="6.9"/><circle cx="648.9" cy="311.7" r="6.9"/><circle cx="645.6" cy="312.1" r="6.9"/><circle cx="646.0" cy="312.7" r="6.9"/><circle cx="649.1" cy="311.7" r="6.9"/><circle cx="648.9" cy="311.9" r="6.9"/><circle cx="646.9" cy="310.1" r="6.9"/><circle cx="647.9" cy="313.5" r="6.9"/><circle cx="649.0" cy="307.1" r="6.9"/><circle cx="648.0" cy="306.6" r="6.9"/><circle cx="648.7" cy="308.1" r="6.9"/><circle cx="646.4" cy="308.3" r="6.9"/><circle cx="651.2" cy="307.2" r="6.9"/><circle cx="650.7" cy="306.9" r="6.9"/><circle cx="650.9" cy="307.9" r="6.9"/><circle cx="649.1" cy="305.4" r="6.9"/><circle cx="648.8" cy="306.8" r="6.9"/><circle cx="649.0" cy="306.7" r="6.9"/><circle cx="650.1" cy="308.9" r="6.9"/><circle cx="653.4" cy="306.3" r="6.9"/><circle cx="651.3" cy="305.2" r="6.9"/><circle cx="652.0" cy="303.5" r="6.9"/><circle cx="654.0" cy="305.8" r="6.9"/><circle cx="652.0" cy="304.3" r="6.9"/><circle cx="652.5" cy="305.2" r="6.9"/><circle cx="650.4" cy="305.1" r="6.9"/><circle cx="650.8" cy="305.6" r="6.9"/><circle cx="651.7" cy="304.7" r="6.9"/><circle cx="650.6" cy="304.7" r="6.9"/><circle cx="656.7" cy="302.2" r="6.9"/><circle cx="655.6" cy="303.6" r="6.9"/><circle cx="656.1" cy="302.3" r="6.9"/><circle cx="656.4" cy="301.6" r="6.9"/><circle cx="654.8" cy="302.0" r="6.9"/><circle cx="655.2" cy="303.0" r="6.9"/><circle cx="655.9" cy="302.7" r="6.9"/><circle cx="654.1" cy="303.3" r="6.9"/><circle cx="656.6" cy="300.2" r="6.9"/><circle cx="659.4" cy="295.6" r="6.9"/><circle cx="658.3" cy="296.0" r="6.9"/><circle cx="657.8" cy="300.1" r="6.9"/><circle cx="657.0" cy="296.8" r="6.9"/><circle cx="657.8" cy="297.9" r="6.9"/><circle cx="658.1" cy="296.0" r="6.9"/><circle cx="658.5" cy="299.8" r="6.9"/><circle cx="658.2" cy="296.1" r="6.9"/><circle cx="657.4" cy="297.9" r="6.9"/><circle cx="664.5" cy="295.4" r="6.9"/><circle cx="664.8" cy="296.3" r="6.9"/><circle cx="664.2" cy="295.5" r="6.9"/><circle cx="664.9" cy="296.0" r="6.9"/><circle cx="663.9" cy="294.1" r="6.9"/><circle cx="663.4" cy="294.0" r="6.9"/><circle cx="664.5" cy="295.8" r="6.9"/><circle cx="664.6" cy="297.6" r="6.9"/><circle cx="663.5" cy="296.0" r="6.9"/><circle cx="665.3" cy="296.5" r="6.9"/><circle cx="665.1" cy="291.8" r="6.9"/><circle cx="663.7" cy="291.8" r="6.9"/><circle cx="664.3" cy="290.8" r="6.9"/><circle cx="665.0" cy="292.5" r="6.9"/><circle cx="665.4" cy="289.9" r="6.9"/><circle cx="663.5" cy="290.9" r="6.9"/><circle cx="663.0" cy="291.3" r="6.9"/><circle cx="665.0" cy="291.1" r="6.9"/><circle cx="664.8" cy="293.6" r="6.9"/><circle cx="665.2" cy="292.6" r="6.9"/><circle cx="667.0" cy="287.8" r="6.9"/><circle cx="663.4" cy="287.8" r="6.9"/><circle cx="666.1" cy="286.4" r="6.9"/><circle cx="667.8" cy="285.6" r="6.9"/><circle cx="667.6" cy="287.5" r="6.9"/><circle cx="666.1" cy="286.7" r="6.9"/><circle cx="666.1" cy="285.8" r="6.9"/><circle cx="665.9" cy="287.4" r="6.9"/><circle cx="667.0" cy="288.1" r="6.9"/><circle cx="666.5" cy="286.1" r="6.9"/><circle cx="669.6" cy="283.2" r="6.9"/><circle cx="671.5" cy="282.7" r="6.9"/><circle cx="669.0" cy="283.2" r="6.9"/><circle cx="671.0" cy="283.7" r="6.9"/><circle cx="668.9" cy="284.0" r="6.9"/><circle cx="668.9" cy="281.4" r="6.9"/><circle cx="670.2" cy="284.9" r="6.9"/><circle cx="670.0" cy="282.0" r="6.9"/><circle cx="675.1" cy="279.8" r="6.9"/><circle cx="673.5" cy="278.4" r="6.9"/><circle cx="671.3" cy="281.1" r="6.9"/><circle cx="672.8" cy="280.1" r="6.9"/><circle cx="671.1" cy="280.7" r="6.9"/><circle cx="673.4" cy="279.8" r="6.9"/><circle cx="673.9" cy="281.6" r="6.9"/><circle cx="674.5" cy="274.1" r="6.9"/><circle cx="673.3" cy="273.8" r="6.9"/><circle cx="674.8" cy="277.0" r="6.9"/><circle cx="675.0" cy="275.6" r="6.9"/><circle cx="673.5" cy="276.7" r="6.9"/><circle cx="673.7" cy="274.9" r="6.9"/><circle cx="674.7" cy="275.1" r="6.9"/><circle cx="675.8" cy="273.9" r="6.9"/><circle cx="672.9" cy="275.1" r="6.9"/><circle cx="674.1" cy="277.4" r="6.9"/><circle cx="677.0" cy="271.7" r="6.9"/><circle cx="677.2" cy="271.4" r="6.9"/><circle cx="673.4" cy="271.8" r="6.9"/><circle cx="676.2" cy="269.8" r="6.9"/><circle cx="676.1" cy="270.0" r="6.9"/><circle cx="674.4" cy="271.9" r="6.9"/><circle cx="676.1" cy="273.5" r="6.9"/><circle cx="675.7" cy="270.5" r="6.9"/><circle cx="679.4" cy="265.8" r="6.9"/><circle cx="679.2" cy="265.2" r="6.9"/><circle cx="677.7" cy="266.1" r="6.9"/><circle cx="678.2" cy="269.7" r="6.9"/><circle cx="678.5" cy="265.4" r="6.9"/><circle cx="680.1" cy="266.2" r="6.9"/><circle cx="677.9" cy="268.0" r="6.9"/><circle cx="679.3" cy="265.3" r="6.9"/><circle cx="678.6" cy="264.8" r="6.9"/><circle cx="682.0" cy="265.2" r="6.9"/><circle cx="682.4" cy="264.5" r="6.9"/><circle cx="680.2" cy="263.3" r="6.9"/><circle cx="680.7" cy="263.0" r="6.9"/><circle cx="683.2" cy="261.7" r="6.9"/><circle cx="681.3" cy="262.3" r="6.9"/><circle cx="683.7" cy="261.7" r="6.9"/><circle cx="687.0" cy="260.3" r="6.9"/><circle cx="684.5" cy="261.4" r="6.9"/><circle cx="684.8" cy="261.4" r="6.9"/><circle cx="684.7" cy="263.3" r="6.9"/><circle cx="684.8" cy="261.0" r="6.9"/><circle cx="686.0" cy="259.9" r="6.9"/><circle cx="689.6" cy="259.0" r="6.9"/><circle cx="689.5" cy="256.0" r="6.9"/><circle cx="689.0" cy="258.9" r="6.9"/><circle cx="689.6" cy="259.5" r="6.9"/><circle cx="688.9" cy="259.9" r="6.9"/><circle cx="688.5" cy="257.0" r="6.9"/><circle cx="694.4" cy="259.2" r="6.9"/><circle cx="694.5" cy="256.8" r="6.9"/><circle cx="693.7" cy="258.4" r="6.9"/><circle cx="694.2" cy="259.3" r="6.9"/><circle cx="693.1" cy="258.5" r="6.9"/><circle cx="694.1" cy="256.6" r="6.9"/><circle cx="695.2" cy="256.3" r="6.9"/><circle cx="696.3" cy="253.2" r="6.9"/><circle cx="696.2" cy="254.6" r="6.9"/><circle cx="696.5" cy="254.0" r="6.9"/><circle cx="695.8" cy="254.6" r="6.9"/><circle cx="696.5" cy="253.7" r="6.9"/><circle cx="696.0" cy="253.5" r="6.9"/><circle cx="700.4" cy="248.8" r="6.9"/><circle cx="699.9" cy="250.3" r="6.9"/><circle cx="701.1" cy="249.1" r="6.9"/><circle cx="700.8" cy="248.2" r="6.9"/><circle cx="698.8" cy="250.0" r="6.9"/><circle cx="703.4" cy="247.3" r="6.9"/><circle cx="704.0" cy="246.0" r="6.9"/><circle cx="704.6" cy="245.6" r="6.9"/><circle cx="703.7" cy="246.2" r="6.9"/><circle cx="702.7" cy="248.4" r="6.9"/><circle cx="704.5" cy="246.3" r="6.9"/><circle cx="701.7" cy="247.9" r="6.9"/><circle cx="705.5" cy="243.6" r="6.9"/><circle cx="706.0" cy="244.2" r="6.9"/><circle cx="706.0" cy="244.8" r="6.9"/><circle cx="708.3" cy="239.5" r="6.9"/><circle cx="707.4" cy="239.5" r="6.9"/><circle cx="709.2" cy="237.9" r="6.9"/><circle cx="707.3" cy="239.8" r="6.9"/><circle cx="709.0" cy="237.8" r="6.9"/><circle cx="710.5" cy="233.6" r="6.9"/><circle cx="711.3" cy="233.4" r="6.9"/><circle cx="714.0" cy="230.6" r="6.9"/><circle cx="712.1" cy="231.9" r="6.9"/><circle cx="717.3" cy="227.5" r="6.9"/><circle cx="717.6" cy="226.9" r="6.9"/><circle cx="716.1" cy="228.0" r="6.9"/><circle cx="717.0" cy="227.3" r="6.9"/><circle cx="717.1" cy="228.3" r="6.9"/><circle cx="716.0" cy="229.7" r="6.9"/><circle cx="718.0" cy="224.7" r="6.9"/><circle cx="718.7" cy="220.1" r="6.9"/><circle cx="719.3" cy="219.8" r="6.9"/><circle cx="718.9" cy="220.4" r="6.9"/><circle cx="719.2" cy="220.9" r="6.9"/><circle cx="719.8" cy="218.4" r="6.9"/><circle cx="721.1" cy="212.8" r="6.9"/><circle cx="720.9" cy="215.8" r="6.9"/><circle cx="721.9" cy="208.8" r="6.9"/><circle cx="723.3" cy="205.4" r="6.9"/><circle cx="723.8" cy="204.7" r="6.9"/><circle cx="722.7" cy="207.6" r="6.9"/><circle cx="722.8" cy="206.5" r="6.9"/><circle cx="723.2" cy="200.2" r="6.9"/><circle cx="724.4" cy="197.4" r="6.9"/><circle cx="725.3" cy="196.0" r="6.9"/></g>
<line x1="98.4" y1="775.2" x2="728.1" y2="240.5" stroke="#f00" stroke-opacity="0.35" stroke-width="4.17" stroke-linecap="square"/>
<line x1="5.20" y1="940.85" x2="977.20" y2="-24.65" stroke="#00f" stroke-opacity="0.33" stroke-width="4.17"/>
</g>
<rect x="67.5" y="110.5" width="775.0" height="770.0" fill="none" stroke="#000" stroke-width="1.11"/>
<g stroke="#000" stroke-width="1.11"><line x1="102.5" y1="880.5" x2="102.5" y2="885.36"/><line x1="67.5" y1="844.5" x2="62.64" y2="844.5"/><line x1="200.5" y1="880.5" x2="200.5" y2="885.36"/><line x1="67.5" y1="747.5" x2="62.64" y2="747.5"/><line x1="297.5" y1="880.5" x2="297.5" y2="885.36"/><line x1="67.5" y1="651.5" x2="62.64" y2="651.5"/><line x1="394.5" y1="880.5" x2="394.5" y2="885.36"/><line x1="67.5" y1="554.5" x2="62.64" y2="554.5"/><line x1="491.5" y1="880.5" x2="491.5" y2="885.36"/><line x1="67.5" y1="458.5" x2="62.64" y2="458.5"/><line x1="588.5" y1="880.5" x2="588.5" y2="885.36"/><line x1="67.5" y1="361.5" x2="62.64" y2="361.5"/><line x1="686.5" y1="880.5" x2="686.5" y2="885.36"/><line x1="67.5" y1="264.5" x2="62.64" y2="264.5"/><line x1="783.5" y1="880.5" x2="783.5" y2="885.36"/><line x1="67.5" y1="168.5" x2="62.64" y2="168.5"/></g>
<g font-size="14.7"><text x="102.40" y="901" text-anchor="middle" textLength="25" lengthAdjust="spacingAndGlyphs">175</text><text x="56.7" y="849.80" text-anchor="end" textLength="25" lengthAdjust="spacingAndGlyphs">175</text><text x="199.60" y="901" text-anchor="middle" textLength="25" lengthAdjust="spacingAndGlyphs">200</text><text x="56.7" y="753.25" text-anchor="end" textLength="25" lengthAdjust="spacingAndGlyphs">200</text><text x="296.80" y="901" text-anchor="middle" textLength="25" lengthAdjust="spacingAndGlyphs">225</text><text x="56.7" y="656.70" text-anchor="end" textLength="25" lengthAdjust="spacingAndGlyphs">225</text><text x="394.00" y="901" text-anchor="middle" textLength="25" lengthAdjust="spacingAndGlyphs">250</text><text x="56.7" y="560.15" text-anchor="end" textLength="25" lengthAdjust="spacingAndGlyphs">250</text><text x="491.20" y="901" text-anchor="middle" textLength="25" lengthAdjust="spacingAndGlyphs">275</text><text x="56.7" y="463.60" text-anchor="end" textLength="25" lengthAdjust="spacingAndGlyphs">275</text><text x="588.40" y="901" text-anchor="middle" textLength="25" lengthAdjust="spacingAndGlyphs">300</text><text x="56.7" y="367.05" text-anchor="end" textLength="25" lengthAdjust="spacingAndGlyphs">300</text><text x="685.60" y="901" text-anchor="middle" textLength="25" lengthAdjust="spacingAndGlyphs">325</text><text x="56.7" y="270.50" text-anchor="end" textLength="25" lengthAdjust="spacingAndGlyphs">325</text><text x="782.80" y="901" text-anchor="middle" textLength="25" lengthAdjust="spacingAndGlyphs">350</text><text x="56.7" y="173.95" text-anchor="end" textLength="25" lengthAdjust="spacingAndGlyphs">350</text></g>
<text x="453.6" y="920.9" font-size="17.1" text-anchor="middle" textLength="84.2" lengthAdjust="spacingAndGlyphs">Simulated</text>
<text transform="translate(22.4,496.25) rotate(-90)" x="0" y="0" font-size="17.1" text-anchor="middle" textLength="80.2" lengthAdjust="spacingAndGlyphs">Observed</text>
<g font-size="20.6" text-anchor="middle">
<text x="441.6" y="24.8" textLength="580" lengthAdjust="spacingAndGlyphs">Q-Q plot at is.landsvirkjun.t06 for downward_longwave_flux</text>
<text x="441.3" y="47.7" textLength="309.7" lengthAdjust="spacingAndGlyphs">from rav2-17-18 during autumn</text>
</g>
</svg>
</body></html>
